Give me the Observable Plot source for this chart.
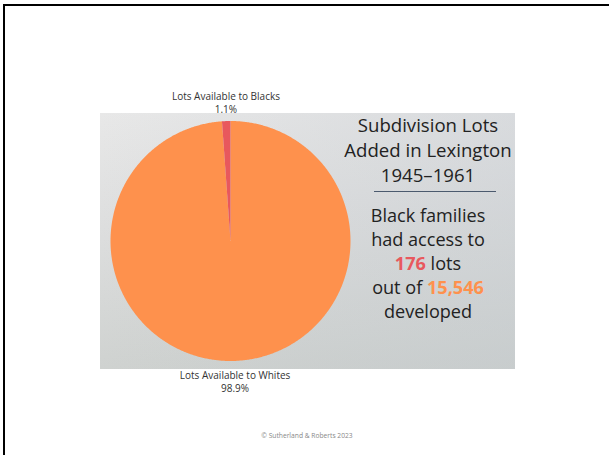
<!DOCTYPE html>
<html>
<head>
<meta charset="utf-8">
<script src="https://cdn.jsdelivr.net/npm/d3@7"></script>
<script src="https://cdn.jsdelivr.net/npm/@observablehq/plot@0.6"></script>
<style>
  html, body { margin: 0; padding: 0; background: #fff; }
  #wrap { position: relative; width: 609px; height: 455px; overflow: hidden; font-family: "Open Sans", sans-serif; }
  #border { position: absolute; left: 3px; top: 4px; right: -10px; bottom: -10px; border-left: 2.5px solid #000; border-top: 2.5px solid #000; }
  #panel { position: absolute; left: 100px; top: 113px; width: 415px; height: 256px;
    background: linear-gradient(172deg, #e8e8e8 0%, #dcdddd 40%, #c9cdca 100%); }
  #panel2 { position: absolute; left: 100px; top: 113px; width: 415px; height: 256px;
    background: linear-gradient(to right, rgba(200,205,200,0) 0%, rgba(198,204,212,0.35) 100%); }
  #chart { position: absolute; left: 0; top: 0; }
  .r { position: absolute; left: 329px; width: 198px; text-align: center; color: #222; white-space: nowrap; }
  .t { font-size: 18.6px; line-height: 24px; }
  .b { font-size: 18.1px; line-height: 24px; }
  #rule { position: absolute; left: 374px; top: 191px; width: 122px; height: 1px; background: #4b5a6e; }
  #credit { position: absolute; left: 200px; width: 214px; top: 431px; text-align: center; font-size: 6.7px; color: #888; }
</style>
</head>
<body>
<div id="wrap">
  <div id="border"></div>
  <div id="panel"></div>
  <div id="panel2"></div>
  <div id="chart"></div>
  <div id="titleBox"></div>
  <div id="rule"></div>
  <div id="bodyBox"></div>
  <div id="credit"></div>
</div>
<script>
// ---- data ----
const categories = ["Lots Available to Whites", "Lots Available to Blacks"];
const lots = [15370, 176];
const colors = ["#fe914d", "#e8585d"];
const titleLines = ["Subdivision Lots", "Added in Lexington", "1945\u20131961"];
const blackLots = 176;
const totalLots = 15546;
const credit = "\u00a9 Sutherland & Roberts 2023";

// ---- pie geometry via d3.pie ----
const pie = d3.pie().sort(null).value(d => d.value);
const rows = categories.map((c, i) => ({cat: c, value: lots[i]}));
const arcs = pie(rows);
const total = d3.sum(lots);
const pct = d3.format(".1%");

const polys = [];
for (const a of arcs) {
  const n = Math.max(2, Math.ceil((a.endAngle - a.startAngle) / (Math.PI / 360)));
  polys.push({cat: a.data.cat, x: 0, y: 0});
  for (let k = 0; k <= n; k++) {
    const t = a.startAngle + (a.endAngle - a.startAngle) * k / n;
    polys.push({cat: a.data.cat, x: Math.sin(t), y: Math.cos(t)});
  }
}
const labels = arcs.map(a => {
  const m = (a.startAngle + a.endAngle) / 2;
  const r = 1.07;
  return {cat: a.data.cat, pct: pct(a.data.value / total), x: Math.sin(m) * r, y: Math.cos(m) * r, top: Math.cos(m) > 0};
});

const chart = Plot.plot({
  width: 609,
  height: 455,
  margin: 0,
  style: {background: "transparent", overflow: "visible"},
  x: {domain: [-1, 1], range: [110, 350], axis: null},
  y: {domain: [-1, 1], range: [360.5, 120.5], axis: null},
  color: {domain: categories, range: colors},
  marks: [
    Plot.line(polys, {x: "x", y: "y", z: "cat", fill: "cat", stroke: "none", curve: "linear-closed"}),
    Plot.text(labels.filter(d => d.top), {x: "x", y: "y", text: d => d.cat + "\n" + d.pct,
      lineAnchor: "bottom", fontSize: 10, fill: "#333", lineHeight: 1.3, fontFamily: "Open Sans"}),
    Plot.text(labels.filter(d => !d.top), {x: "x", y: "y", text: d => d.cat + "\n" + d.pct,
      lineAnchor: "top", fontSize: 10, fill: "#333", lineHeight: 1.3, fontFamily: "Open Sans"})
  ]
});
document.getElementById("chart").appendChild(chart);

// ---- right-hand text ----
const tb = document.getElementById("titleBox");
titleLines.forEach((s, i) => {
  const d = document.createElement("div");
  d.className = "r t";
  d.style.top = (113 + i * 25) + "px";
  d.textContent = s;
  tb.appendChild(d);
});
const fmt = d3.format(",");
const bodyLines = [
  "Black families",
  "had access to",
  `<b style="color:${colors[1]}">${fmt(blackLots)}</b> lots`,
  `out of <b style="color:${colors[0]}">${fmt(totalLots)}</b>`,
  "developed"
];
const bb = document.getElementById("bodyBox");
bodyLines.forEach((s, i) => {
  const d = document.createElement("div");
  d.className = "r b";
  d.style.top = (203 + i * 24) + "px";
  d.innerHTML = s;
  bb.appendChild(d);
});
document.getElementById("credit").textContent = credit;
</script>
</body>
</html>
